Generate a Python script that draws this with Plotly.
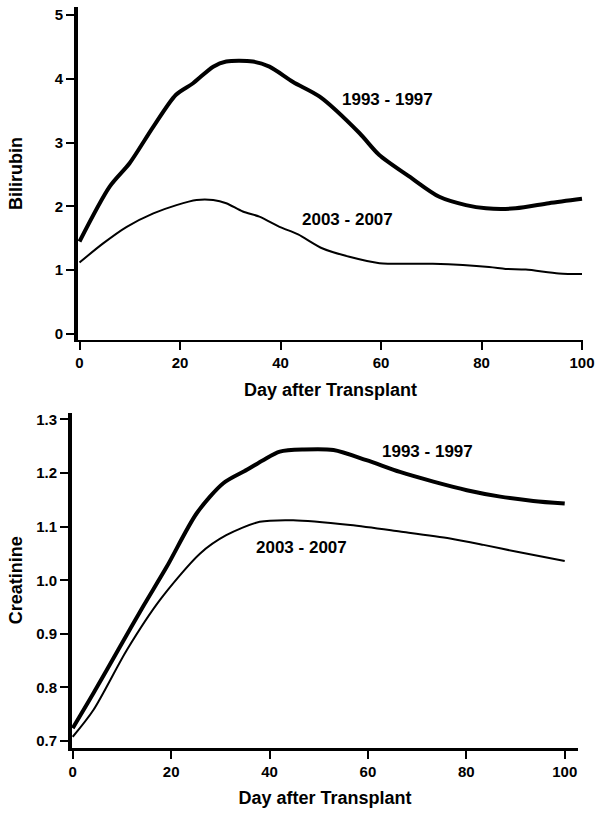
import plotly.graph_objects as go

# ---- data ----
bili_days_old = [0, 6, 10, 14.7, 19.2, 22.6, 26.6, 29.2, 34.5, 37.8, 42.5, 47.8, 55.7, 59.6, 65.6, 71.6, 76.9, 80.9, 86.8, 93.4, 100]
bili_vals_old = [1.45, 2.31, 2.68, 3.25, 3.75, 3.93, 4.19, 4.27, 4.27, 4.19, 3.95, 3.72, 3.15, 2.81, 2.47, 2.15, 2.02, 1.97, 1.97, 2.05, 2.12]

bili_days_new = [0, 4.7, 9.4, 14.7, 19.3, 23.3, 26.6, 29.2, 32.5, 35.8, 39.8, 43.5, 48.4, 53.7, 59.7, 70.3, 81.5, 84.8, 88.8, 95.4, 100]
bili_vals_new = [1.12, 1.42, 1.68, 1.89, 2.02, 2.10, 2.10, 2.05, 1.92, 1.84, 1.68, 1.56, 1.34, 1.21, 1.11, 1.10, 1.05, 1.02, 1.01, 0.95, 0.94]

crea_days_old = [0, 4.2, 9.6, 14.3, 19.1, 25.2, 30.6, 35.4, 38.7, 42.1, 47, 53, 59.7, 66.5, 73.3, 80.1, 86.9, 93.6, 100]
crea_vals_old = [0.724, 0.789, 0.876, 0.951, 1.025, 1.125, 1.181, 1.206, 1.224, 1.240, 1.244, 1.243, 1.224, 1.202, 1.184, 1.168, 1.156, 1.148, 1.143]

crea_days_new = [0, 4.2, 11, 17.7, 25.9, 31.2, 38, 44.8, 56.4, 66.5, 76.7, 83.5, 90.3, 100]
crea_vals_new = [0.708, 0.758, 0.870, 0.963, 1.050, 1.084, 1.109, 1.112, 1.103, 1.091, 1.078, 1.066, 1.053, 1.036]

series_labels = ["1993 - 1997", "2003 - 2007"]
x_ticks = [0, 20, 40, 60, 80, 100]
bili_ticks = [0, 1, 2, 3, 4, 5]
crea_ticks = [0.7, 0.8, 0.9, 1.0, 1.1, 1.2, 1.3]
x_title = "Day after Transplant"
y_titles = ["Bilirubin", "Creatinine"]

W, H = 602, 816
FONT = "Liberation Sans, Arial, sans-serif"
SMOOTH = 0.8

fig = go.Figure()
fig.add_trace(go.Scatter(x=bili_days_old, y=bili_vals_old, mode="lines", xaxis="x", yaxis="y",
                         line=dict(color="black", width=4, shape="spline", smoothing=SMOOTH), name=series_labels[0]))
fig.add_trace(go.Scatter(x=bili_days_new, y=bili_vals_new, mode="lines", xaxis="x", yaxis="y",
                         line=dict(color="black", width=2, shape="spline", smoothing=SMOOTH), name=series_labels[1]))
fig.add_trace(go.Scatter(x=crea_days_old, y=crea_vals_old, mode="lines", xaxis="x2", yaxis="y2",
                         line=dict(color="black", width=4, shape="spline", smoothing=SMOOTH), name=series_labels[0]))
fig.add_trace(go.Scatter(x=crea_days_new, y=crea_vals_new, mode="lines", xaxis="x2", yaxis="y2",
                         line=dict(color="black", width=2, shape="spline", smoothing=SMOOTH), name=series_labels[1]))

tickfont = dict(family=FONT, size=15, color="black", weight="bold")
titlefont = dict(family=FONT, size=18, color="black", weight="bold")

common_axis = dict(showline=True, linecolor="black", showgrid=False, zeroline=False,
                   ticks="outside", tickcolor="black", tickwidth=2, ticklen=8,
                   tickfont=tickfont, automargin=False, fixedrange=True,
                   ticklabeloverflow="allow")

fig.update_layout(
    width=W, height=H,
    margin=dict(l=0, r=0, t=0, b=0),
    paper_bgcolor="white", plot_bgcolor="white",
    showlegend=False,
    xaxis=dict(domain=[78 / W, 583 / W], range=[-0.3, 100.2], anchor="y",
               tickvals=x_ticks, linewidth=2,
               title=dict(text=x_title, font=titlefont, standoff=13), **common_axis),
    yaxis=dict(domain=[1 - 340 / H, 1 - 7 / H], range=[-0.094, 5.125], anchor="x",
               tickvals=bili_ticks, linewidth=4,
               title=dict(text=y_titles[0], font=titlefont, standoff=28), **common_axis),
    xaxis2=dict(domain=[72 / W, 578 / W], range=[-0.15, 102.7], anchor="y2",
                tickvals=x_ticks, linewidth=3,
                title=dict(text=x_title, font=titlefont, standoff=13), **common_axis),
    yaxis2=dict(domain=[1 - 747.5 / H, 1 - 413 / H], range=[0.688, 1.312], anchor="x2",
                tickvals=crea_ticks, tickformat=".1f", linewidth=4,
                title=dict(text=y_titles[1], font=titlefont, standoff=10), **common_axis),
)

annfont = dict(family=FONT, size=17, color="black", weight="bold")
fig.add_annotation(x=61.3, y=3.67, xref="x", yref="y", text=series_labels[0], showarrow=False, font=annfont)
fig.add_annotation(x=53.3, y=1.79, xref="x", yref="y", text=series_labels[1], showarrow=False, font=annfont)
fig.add_annotation(x=72.2, y=1.240, xref="x2", yref="y2", text=series_labels[0], showarrow=False, font=annfont)
fig.add_annotation(x=46.4, y=1.062, xref="x2", yref="y2", text=series_labels[1], showarrow=False, font=annfont)

fig.write_html("out.html", config={"displayModeBar": False},
               post_script="document.body.style.margin='0';document.body.style.padding='0';")
